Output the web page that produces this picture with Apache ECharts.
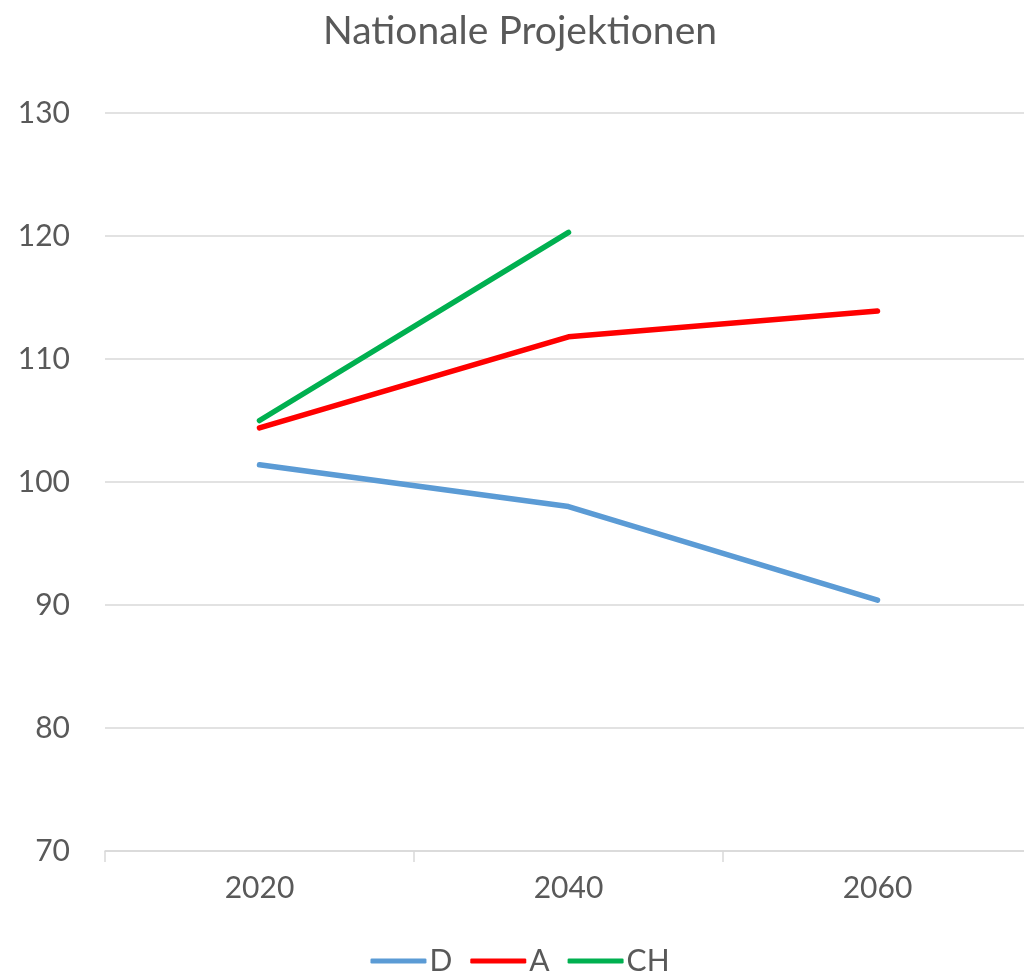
<!DOCTYPE html>
<html>
<head>
<meta charset="utf-8">
<script src="https://cdn.jsdelivr.net/npm/echarts@6/dist/echarts.min.js"></script>
<style>
    html, body { margin: 0; padding: 0; background: #fff; overflow: hidden; }
    #chart { width: 1040px; height: 977px; }
</style>
</head>
<body>
<div id="chart"></div>
<script>
    let years = ['2020', '2040', '2060']
    let seriesD = [101.4, 98.0, 90.4]
    let seriesA = [104.4, 111.8, 113.9]
    let seriesCH = [105.0, 120.3, null]

    let textColor = '#595959'
    let font = 'Lato, "Open Sans", sans-serif'

    let setLine = (name, data, color) => {
        return {
            name,
            type: 'line',
            data,
            symbol: 'none',
            connectNulls: false,
            lineStyle: { width: 5.5, color, cap: 'round', join: 'round' },
            itemStyle: { color }
        }
    }

    // canvas is a bit wider than the window: the plot runs past the right edge
    let myChart = echarts.init(document.getElementById('chart'))
    myChart.setOption({
        animation: false,
        title: {
            text: 'Nationale Projektionen',
            left: 515,
            textAlign: 'center',
            top: 7,
            textStyle: { fontSize: 39, fontWeight: 'normal', color: textColor, fontFamily: font }
        },
        legend: {
            bottom: -4,
            left: 'center',
            itemWidth: 56,
            itemHeight: 5,
            itemGap: 18,
            icon: 'roundRect',
            textStyle: { fontSize: 30, color: textColor, fontFamily: font, padding: [0, 0, 0, -2] },
            data: ['D', 'A', 'CH']
        },
        grid: {
            left: 105,
            top: 113,
            bottom: 126,
            width: 927,
            containLabel: false
        },
        xAxis: {
            type: 'category',
            boundaryGap: true,
            data: years,
            axisLine: { show: true, lineStyle: { color: '#D9D9D9', width: 1.5 } },
            axisTick: { show: true, length: 11, lineStyle: { color: '#D9D9D9', width: 1.5 } },
            axisLabel: { fontSize: 30, color: textColor, fontFamily: font, margin: 22 }
        },
        yAxis: {
            type: 'value',
            min: 70,
            max: 130,
            interval: 10,
            axisLine: { show: false },
            axisTick: { show: false },
            splitLine: { lineStyle: { color: '#D9D9D9', width: 1.5 } },
            axisLabel: { fontSize: 30, color: textColor, fontFamily: font, margin: 35 }
        },
        series: [
            setLine('D', seriesD, '#5B9BD5'),
            setLine('A', seriesA, '#FF0000'),
            setLine('CH', seriesCH, '#00B050')
        ]
    })
</script>
</body>
</html>
